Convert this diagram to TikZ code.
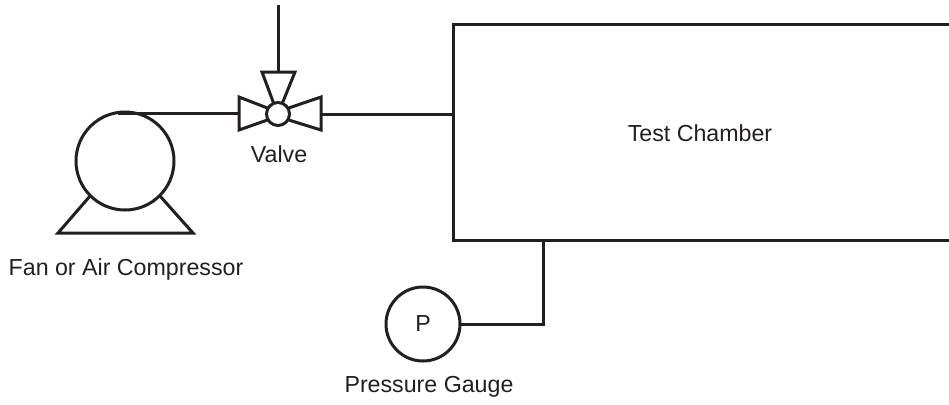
\documentclass[tikz,border=0pt]{standalone}
\usepackage{fontspec}
\setmainfont{Liberation Sans}
\usepackage{xcolor}
\definecolor{inkline}{HTML}{231F20}
\usetikzlibrary{positioning,calc}

\begin{document}
\begin{tikzpicture}[
  x=0.5pt, y=-0.5pt,
  every node/.style={font=\fontsize{11.6}{13}\selectfont, text=inkline},
  pipe/.style={draw=inkline, line width=1.5pt},
  unit/.style={pipe, circle, inner sep=0pt, outer sep=0pt},
  pumpbody/.style={unit, minimum size=49pt},
  valvehub/.style={unit, minimum size=11.5pt},
  gaugebody/.style={unit, minimum size=37pt},
  tag/.style={inner sep=0pt}
]
\useasboundingbox (0,0) rectangle (949,404);

% equipment
\node[pumpbody] (pump) at (125,161) {};
\node[valvehub] (valve) at (278,114) {};
\node[gaugebody] (gauge) at (423,324) {P};

% named ends of the pipes
\coordinate (pumptop) at (118,113);
\coordinate (valveW) at (239,114);
\coordinate (valveE) at (321,114);
\coordinate (valveN) at (278,72);
\coordinate (inlet) at (278,5);
\coordinate (chamberNW) at (453,24);
\coordinate (chamberSW) at (453,240);
\coordinate (chamberNE) at (949,24);
\coordinate (chamberSE) at (949,240);
\coordinate (chamberW) at (453,114);
\coordinate (chamberS) at (543,240);
\coordinate (baseL) at (58,233);
\coordinate (baseR) at (193,233);

% pump base
\draw[pipe, line join=miter] (pump.225) -- (baseL) -- (baseR) -- (pump.-45);

% valve
\draw[pipe, line join=miter] (valve.150) -- (239,97) -- (239,130) -- (valve.210);
\draw[pipe, line join=miter] (valve.30) -- (321,97) -- (321,130) -- (valve.-30);
\draw[pipe, line join=miter] (valve.112) -- (262,72) -- (295,72) -- (valve.68);

% chamber
\draw[pipe, line join=miter] (chamberNE) -- (chamberNW) -- (chamberSW) -- (chamberSE);

% pipes
\draw[pipe] (pumptop) -- (valveW |- pumptop);
\draw[pipe] (inlet) -- (valveN);
\draw[pipe] (valveE) -- (chamberW);
\draw[pipe] (gauge.east) -| (chamberS);

% labels
\node[tag] (valvetag) at (279,154) {Valve};
\node[tag] (pumptag) at (126,269) {Fan or Air Compressor};
\node[tag] (chambertag) at (700,133) {Test Chamber};
\node[tag] (gaugetag) at (429,387) {Pressure Gauge};
\end{tikzpicture}
\end{document}
